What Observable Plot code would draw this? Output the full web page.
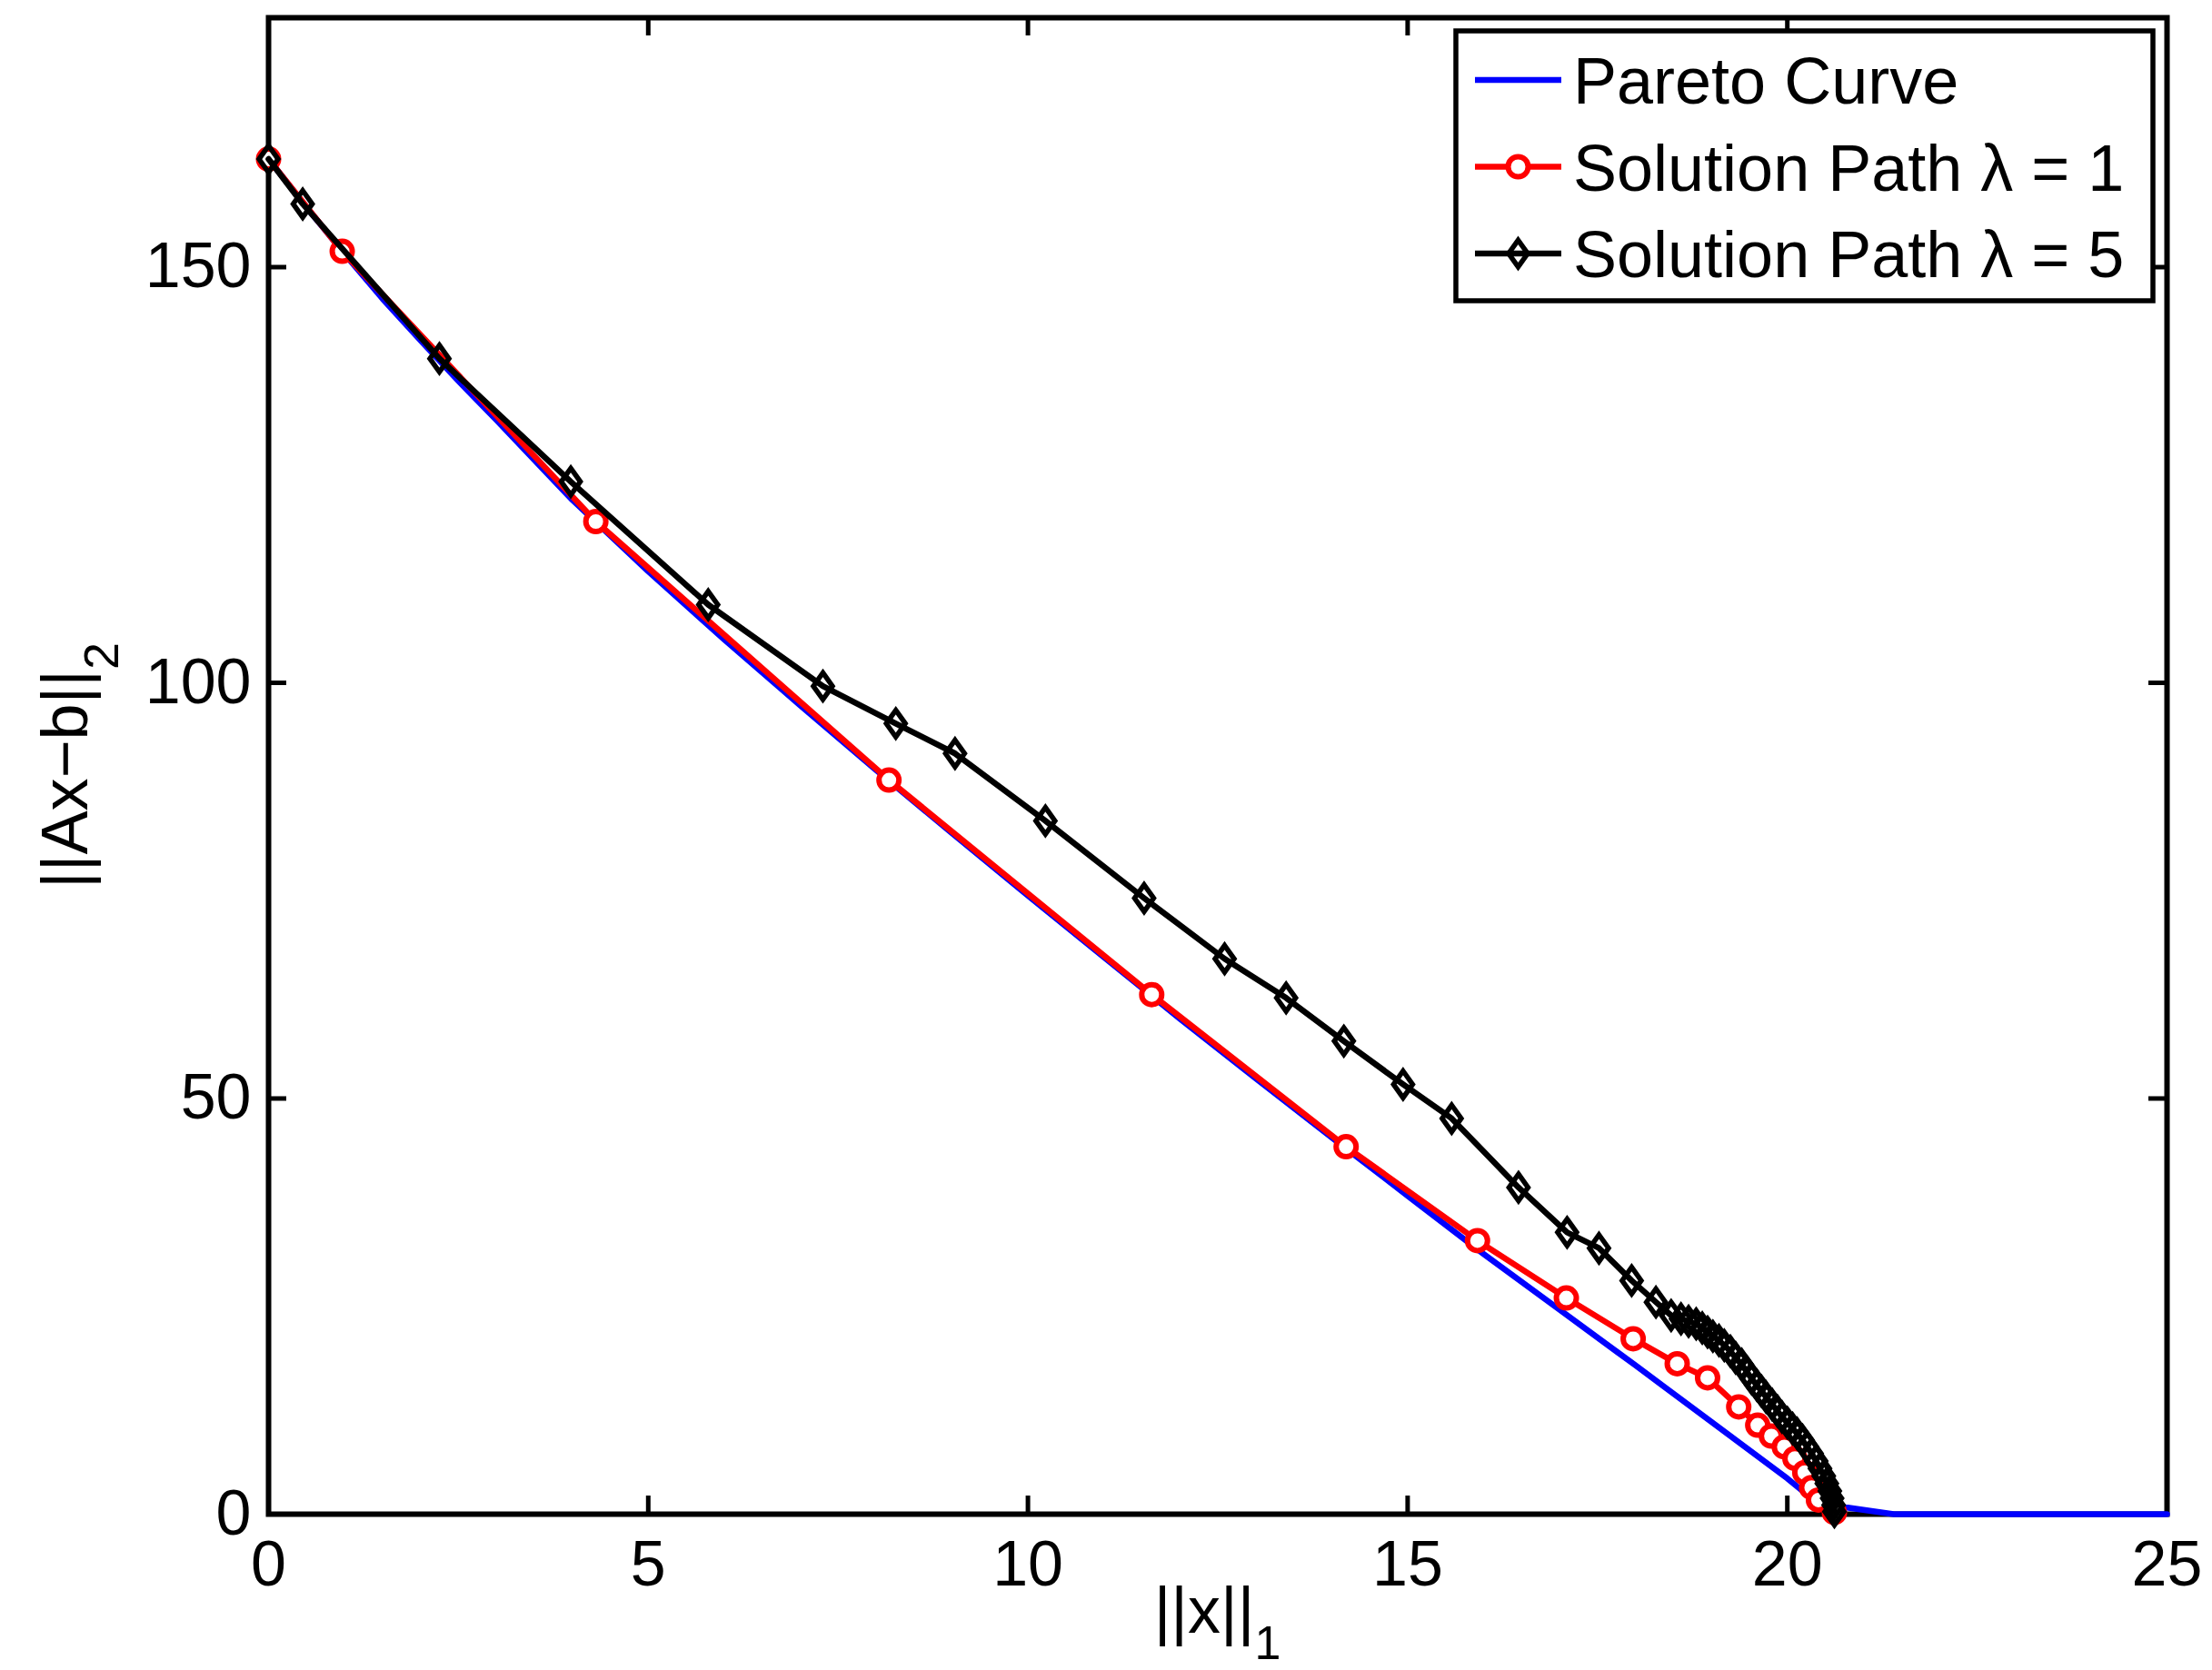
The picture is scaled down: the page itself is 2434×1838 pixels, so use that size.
<!DOCTYPE html>
<html><head><meta charset="utf-8">
<script src="https://cdn.jsdelivr.net/npm/d3@7"></script>
<script src="https://cdn.jsdelivr.net/npm/@observablehq/plot@0.6"></script>
<style>html,body{margin:0;padding:0;background:#fff} svg{display:block}</style>
</head><body><div id="chart"></div>
<script>
// ---- data ----
const paretoX = [0, 0.5, 1, 1.5, 2, 2.5, 3, 3.5, 4, 5, 6, 7, 8, 9, 10, 11, 12, 13, 14, 15, 16, 17, 18, 19, 20, 20.4, 21.4, 25];
const paretoY = [163, 157.2, 151.6, 146.2, 141.2, 136.3, 131.6, 126.8, 122.0, 113.4, 105.2, 97.3, 89.5, 81.9, 74.4, 67.0, 59.6, 52.4, 45.3, 38.3, 31.3, 24.6, 17.9, 11.1, 4.3, 1.3, 0, 0];

const path1X = [0, 0.97, 4.31, 8.17, 11.63, 14.19, 15.92, 17.09, 17.97, 18.55, 18.95, 19.36, 19.61, 19.79, 19.96, 20.1, 20.23, 20.32, 20.41, 20.62];
const path1Y = [163, 151.9, 119.4, 88.3, 62.5, 44.2, 32.9, 26.0, 21.1, 18.1, 16.4, 12.9, 10.7, 9.4, 8.1, 6.7, 5.0, 3.2, 1.7, 0.2];

const path5X = [0, 0.45, 2.25, 3.98, 5.79, 7.30, 8.26, 9.04, 10.23, 11.53, 12.59, 13.40, 14.16, 14.94, 15.58, 16.46, 17.10, 17.52, 17.95, 18.27, 18.47,
  18.6, 18.7, 18.8, 18.88, 18.95, 19.02, 19.1, 19.17, 19.25, 19.32, 19.4, 19.47, 19.53, 19.6, 19.66, 19.72, 19.8, 19.87, 19.93, 20.0,
  20.07, 20.13, 20.2, 20.26, 20.32, 20.38, 20.43, 20.48, 20.52, 20.56, 20.59, 20.61, 20.62];
const path5Y = [163, 157.6, 139.0, 124.2, 109.4, 99.6, 95.1, 91.5, 83.4, 74.1, 66.8, 62.1, 56.9, 51.7, 47.6, 39.3, 33.9, 32.0, 28.1, 25.5, 23.9,
  23.5, 23.2, 22.9, 22.4, 21.9, 21.4, 20.9, 20.3, 19.6, 18.8, 18.0, 17.1, 16.3, 15.5, 14.8, 14.1, 13.2, 12.4, 11.7, 11.0,
  10.3, 9.7, 8.9, 8.1, 7.3, 6.4, 5.5, 4.6, 3.7, 2.8, 1.9, 1.1, 0.3];

const xTicks = [0, 5, 10, 15, 20, 25];
const yTicks = [0, 50, 100, 150];
const seriesNames = ["Pareto Curve", "Solution Path λ = 1", "Solution Path λ = 5"];
const seriesColors = ["#0000ff", "#ff0000", "#000000"];
const xLabelMain = "||x||", xLabelSub = "1";
const yLabelMain = "||Ax\u2212b||", yLabelSub = "2";

// ---- layout ----
const W = 2434, H = 1838, mL = 295, mR = 50, mT = 19, mB = 172;
const plotW = W - mL - mR, plotH = H - mT - mB;
const tickLen = 20;
const lineW = 6.5, markW = 6;
const font = '"Liberation Sans", Arial, Helvetica, sans-serif';

const diamond = {draw(ctx, size) {
  const r = Math.sqrt(size / Math.PI), h = r * 1.4, w = r;
  ctx.moveTo(0, -h); ctx.lineTo(w, 0); ctx.lineTo(0, h); ctx.lineTo(-w, 0); ctx.closePath();
}};

const pareto = paretoX.map((x, i) => ({x, y: paretoY[i]}));
const path1 = path1X.map((x, i) => ({x, y: path1Y[i]}));
const path5 = path5X.map((x, i) => ({x, y: path5Y[i]}));

const plot = Plot.plot({
  width: W, height: H,
  marginLeft: mL, marginRight: mR, marginTop: mT, marginBottom: mB,
  style: {fontFamily: font, background: "white", color: "black", overflow: "visible"},
  x: {domain: [0, 25]},
  y: {domain: [0, 180]},
  marks: [
    Plot.frame({stroke: "black", strokeWidth: 6}),
    Plot.ruleX(xTicks, {x: d => d, insetTop: plotH - tickLen, stroke: "black", strokeWidth: 5}),
    Plot.ruleX(xTicks, {x: d => d, insetBottom: plotH - tickLen, stroke: "black", strokeWidth: 5}),
    Plot.ruleY(yTicks, {y: d => d, insetRight: plotW - tickLen, stroke: "black", strokeWidth: 5}),
    Plot.ruleY(yTicks, {y: d => d, insetLeft: plotW - tickLen, stroke: "black", strokeWidth: 5}),
    Plot.axisX(xTicks, {tickSize: 0, tickPadding: 29, fontSize: 70, label: null}),
    Plot.axisY(yTicks, {tickSize: 0, tickPadding: 19, fontSize: 70, label: null}),
    Plot.line(pareto, {x: "x", y: "y", stroke: seriesColors[0], strokeWidth: lineW}),
    Plot.line(path1, {x: "x", y: "y", stroke: seriesColors[1], strokeWidth: lineW}),
    Plot.dot(path1, {x: "x", y: "y", r: 11, stroke: seriesColors[1], fill: "white", strokeWidth: markW}),
    Plot.line(path5, {x: "x", y: "y", stroke: seriesColors[2], strokeWidth: lineW}),
    Plot.dot(path5, {x: "x", y: "y", symbol: diamond, r: 10.5, stroke: seriesColors[2], fill: "none", strokeWidth: 5.5})
  ]
});

const svg = d3.select(plot);
const cx = mL + plotW / 2, cy = mT + plotH / 2;

// x label with subscript
const xl = svg.append("text").attr("x", cx).attr("y", mT + plotH + 131)
  .attr("text-anchor", "middle").attr("fill", "black")
  .style("font-family", font).style("font-size", "72px");
xl.append("tspan").text(xLabelMain);
xl.append("tspan").attr("dy", 29).style("font-size", "52px").text(xLabelSub);

// y label with subscript
const yl = svg.append("text").attr("transform", `translate(96,${cy}) rotate(-90)`)
  .attr("text-anchor", "middle").attr("fill", "black")
  .style("font-family", font).style("font-size", "72px");
yl.append("tspan").text(yLabelMain);
yl.append("tspan").attr("dy", 34).style("font-size", "54px").text(yLabelSub);

// legend
const lgX = 1602, lgY = 34, lgW = 767, lgH = 297;
const lg = svg.append("g").attr("text-anchor", "start");
lg.append("rect").attr("x", lgX).attr("y", lgY).attr("width", lgW).attr("height", lgH)
  .attr("fill", "white").attr("stroke", "black").attr("stroke-width", 5.5);
seriesNames.forEach((name, i) => {
  const ry = lgY + 54 + i * 95.5;
  const x1 = lgX + 21, x2 = lgX + 116, xm = (x1 + x2) / 2;
  lg.append("line").attr("x1", x1).attr("x2", x2).attr("y1", ry).attr("y2", ry)
    .attr("stroke", seriesColors[i]).attr("stroke-width", lineW);
  if (i === 1) {
    lg.append("circle").attr("cx", xm).attr("cy", ry).attr("r", 11)
      .attr("fill", "white").attr("stroke", seriesColors[i]).attr("stroke-width", markW);
  } else if (i === 2) {
    lg.append("path").attr("d", d3.symbol(diamond, Math.PI * 10.5 * 10.5)())
      .attr("transform", `translate(${xm},${ry})`)
      .attr("fill", "none").attr("stroke", seriesColors[i]).attr("stroke-width", 5.5);
  }
  lg.append("text").attr("x", lgX + 129).attr("y", ry + 26).attr("fill", "black")
    .attr("text-anchor", "start")
    .style("font-family", font).style("font-size", "72px").text(name);
});

document.getElementById("chart").appendChild(plot);
</script>
</body></html>
